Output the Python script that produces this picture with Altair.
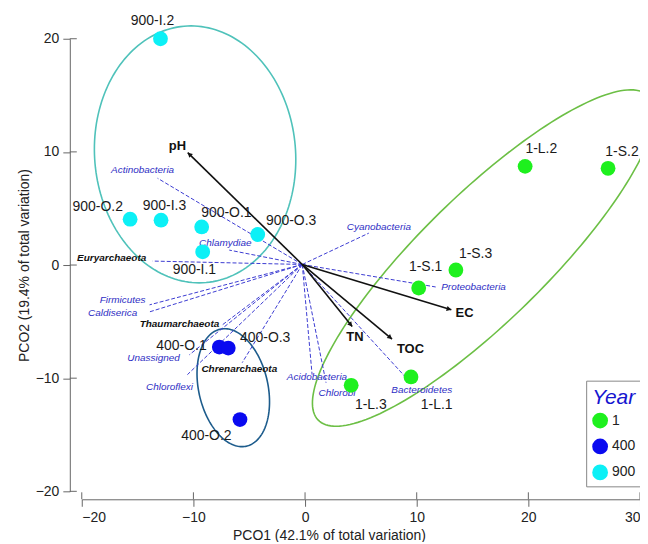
import altair as alt
import pandas as pd
import numpy as np

FONT = "Liberation Sans"

# ---- samples ----
sample_names = ["900-I.2", "900-O.2", "900-I.3", "900-O.1", "900-O.3", "900-I.1",
                "400-O.1", "400-O.3", "400-O.2",
                "1-L.3", "1-L.1", "1-S.1", "1-S.3", "1-L.2", "1-S.2"]
sample_year = ["900"] * 6 + ["400"] * 3 + ["1"] * 6
sample_x = [-12.95, -15.67, -12.9, -9.26, -4.24, -9.17, -7.68, -6.88, -5.83,
            4.13, 9.49, 10.18, 13.51, 19.71, 27.14]
sample_y = [20.0, 4.05, 3.96, 3.37, 2.70, 1.17, -7.25, -7.34, -13.66,
            -10.63, -9.89, -2.03, -0.44, 8.72, 8.55]
label_x = [-13.66, -18.57, -12.59, -7.05, -1.25, -9.91, -11.07, -3.57, -8.84,
           5.89, 11.79, 10.80, 15.27, 21.16, 28.39]
label_y = [21.59, 5.11, 5.20, 4.58, 3.88, -0.44, -7.14, -6.43, -15.15,
           -12.33, -12.33, -0.18, 0.97, 10.22, 9.96]

years = ["1", "400", "900"]
year_colors = ["#1ef01e", "#0a0af0", "#0cf0f6"]
ellipse_colors = ["#6cbf45", "#1d5c8c", "#4fc2ba"]

# ---- environmental vectors ----
origin_x, origin_y = -0.25, 0.05
vec_names = ["pH", "EC", "TN", "TOC"]
vec_x = [-10.51, 13.10, 4.22, 7.79]
vec_y = [9.93, -3.96, -5.44, -6.54]
vec_lx = [-11.43, 14.29, 4.46, 9.44]
vec_ly = [10.48, -4.23, -6.34, -7.43]

# ---- taxa vectors ----
taxa_names = ["Actinobacteria", "Chlamydiae", "Euryarchaeota", "Cyanobacteria",
              "Proteobacteria", "Bacteroidetes", "Chlorobi", "Acidobacteria",
              "Firmicutes", "Caldiserica", "Thaumarchaeota", "Unassigned",
              "Chloroflexi", "Chrenarchaeota"]
taxa_x = [-13.21, -6.79, -13.66, 5.71, 11.70, 9.46, 1.88, 0.63,
          -13.93, -13.93, -7.41, -10.36, -10.54, -5.63]
taxa_y = [7.67, 1.32, 0.35, 2.82, -1.94, -10.40, -10.40, -9.69,
          -3.52, -4.14, -5.29, -7.93, -9.69, -8.63]
taxa_lx = [-14.55, -7.14, -17.32, 6.61, 15.09, 10.45, 2.86, 1.07,
           -16.34, -17.23, -11.25, -13.57, -12.14, -5.89]
taxa_ly = [8.37, 1.94, 0.62, 3.35, -1.94, -11.01, -11.28, -9.87,
           -3.08, -4.23, -5.20, -8.19, -10.75, -9.16]
taxa_archaea = [False, False, True, False, False, False, False, False,
                False, False, True, False, False, True]

# ---- group ellipses (centre, semi-axes, rotation in degrees) ----
ell_group = ["g1", "g400", "g900"]
ell_cx = [15.98, -6.43, -9.85]
ell_cy = [0.62, -10.84, 9.78]
ell_a = [20.6, 5.3, 11.37]
ell_b = [5.6, 3.1, 9.0]
ell_angle = [44.0, 103.0, 95.0]

x_ticks = [-20, -10, 0, 10, 20, 30]
y_ticks = [-20, -10, 0, 10, 20]

W, H = 560, 454

# ---- tables ----
samples = pd.DataFrame({"name": sample_names, "Year": sample_year,
                        "x": sample_x, "y": sample_y, "lx": label_x, "ly": label_y})

vecs = pd.DataFrame({"name": vec_names, "x": vec_x, "y": vec_y,
                     "lx": vec_lx, "ly": vec_ly})
vecs["ox"] = origin_x
vecs["oy"] = origin_y
# arrow-head rotation (clockwise from up) in screen space
sx = (vecs["x"] - origin_x) * (W / 50.0)
sy = (vecs["y"] - origin_y) * (H / 40.0)
vecs["ang"] = (np.degrees(np.arctan2(sx, sy)) + 360) % 360

taxa = pd.DataFrame({"name": taxa_names, "x": taxa_x, "y": taxa_y,
                     "lx": taxa_lx, "ly": taxa_ly, "arch": taxa_archaea})
taxa["ox"] = origin_x
taxa["oy"] = origin_y

rows = []
t = np.linspace(0, 2 * np.pi, 181)
for g, cx, cy, a, b, ang in zip(ell_group, ell_cx, ell_cy, ell_a, ell_b, ell_angle):
    th = np.radians(ang)
    ex = cx + a * np.cos(t) * np.cos(th) - b * np.sin(t) * np.sin(th)
    ey = cy + a * np.cos(t) * np.sin(th) + b * np.sin(t) * np.cos(th)
    for i, (px, py) in enumerate(zip(ex, ey)):
        rows.append({"grp": g, "x": px, "y": py, "i": i})
ell = pd.DataFrame(rows)

xs = alt.Scale(domain=[-20, 30], nice=False, zero=False)
ys = alt.Scale(domain=[-20, 20], nice=False, zero=False)

X_AX = alt.Axis(values=x_ticks, offset=8, tickSize=7, grid=False,
                title="PCO1 (42.1% of total variation)", titleX=248)
Y_AX = alt.Axis(values=y_ticks, offset=12, tickSize=7, grid=False,
                title="PCO2 (19.4% of total variation)")

ellipses = alt.Chart(ell).mark_line(strokeWidth=1.6, clip=False).encode(
    x=alt.X("x:Q", scale=xs, axis=X_AX),
    y=alt.Y("y:Q", scale=ys, axis=Y_AX),
    stroke=alt.Stroke("grp:N", scale=alt.Scale(domain=ell_group, range=ellipse_colors),
                      legend=None),
    detail="grp:N",
    order="i:Q",
)

taxa_lines = alt.Chart(taxa).mark_rule(color="#3c3cd2", strokeWidth=1,
                                        strokeDash=[4, 2]).encode(
    x="ox:Q", y="oy:Q", x2="x:Q", y2="y:Q")

taxa_text = alt.Chart(taxa[~taxa["arch"]]).mark_text(
    font=FONT, fontSize=10, fontStyle="italic", color="#2e2ec4").encode(
    x="lx:Q", y="ly:Q", text="name:N")
arch_text = alt.Chart(taxa[taxa["arch"]]).mark_text(
    font=FONT, fontSize=10, fontStyle="italic", fontWeight="bold", color="#111111").encode(
    x="lx:Q", y="ly:Q", text="name:N")

vec_lines = alt.Chart(vecs).mark_rule(color="#111111", strokeWidth=1.6).encode(
    x="ox:Q", y="oy:Q", x2="x:Q", y2="y:Q")
vec_heads = alt.Chart(vecs).mark_point(
    shape="M0,0 L-0.55,1 L0.55,1 Z", filled=True, size=90, opacity=1,
    color="#111111").encode(x="x:Q", y="y:Q", angle=alt.Angle("ang:Q", scale=None))
vec_text = alt.Chart(vecs).mark_text(font=FONT, fontSize=13, fontWeight="bold",
                                     color="#111111").encode(
    x="lx:Q", y="ly:Q", text="name:N")

points = alt.Chart(samples).mark_circle(size=220, opacity=1).encode(
    x="x:Q", y="y:Q",
    color=alt.Color("Year:N", scale=alt.Scale(domain=years, range=year_colors),
                    legend=alt.Legend(
                        orient="none", legendX=506, legendY=343, title="Year",
                        titleFontStyle="italic", titleFontWeight="normal",
                        titleColor="#1515d0", titleFontSize=21, titleFont=FONT,
                        labelFont=FONT, labelFontSize=14, labelColor="#222222",
                        symbolType="circle", symbolSize=250, symbolStrokeWidth=0,
                        strokeColor="#888888", fillColor="white", padding=6,
                        rowPadding=10, titlePadding=5)),
)
sample_text = alt.Chart(samples).mark_text(font=FONT, fontSize=14, color="#1a1a1a").encode(
    x="lx:Q", y="ly:Q", text="name:N")

# inner halves of the crossing axis ticks
xt = alt.Chart(pd.DataFrame({"v": x_ticks})).mark_rule(color="#666666").encode(
    x="v:Q", y=alt.value(H + 1), y2=alt.value(H + 8))
yt = alt.Chart(pd.DataFrame({"v": y_ticks})).mark_rule(color="#666666").encode(
    y="v:Q", x=alt.value(-5), x2=alt.value(-12))

chart = alt.layer(
    ellipses, taxa_lines, taxa_text, arch_text, vec_lines, vec_heads, vec_text,
    points, sample_text, xt, yt
).properties(
    width=W, height=H,
    autosize=alt.AutoSizeParams(type="none"),
    padding={"left": 74, "top": 30, "right": 0, "bottom": 50},
).configure_view(strokeWidth=0).configure_axis(
    domainColor="#666666", tickColor="#666666", labelFont=FONT, labelFontSize=14,
    labelColor="#222222", titleFont=FONT, titleFontSize=14, titleFontWeight="normal",
    titleColor="#222222", labelPadding=4,
)

chart.save("out.html", embed_options={"renderer": "svg", "actions": False})
